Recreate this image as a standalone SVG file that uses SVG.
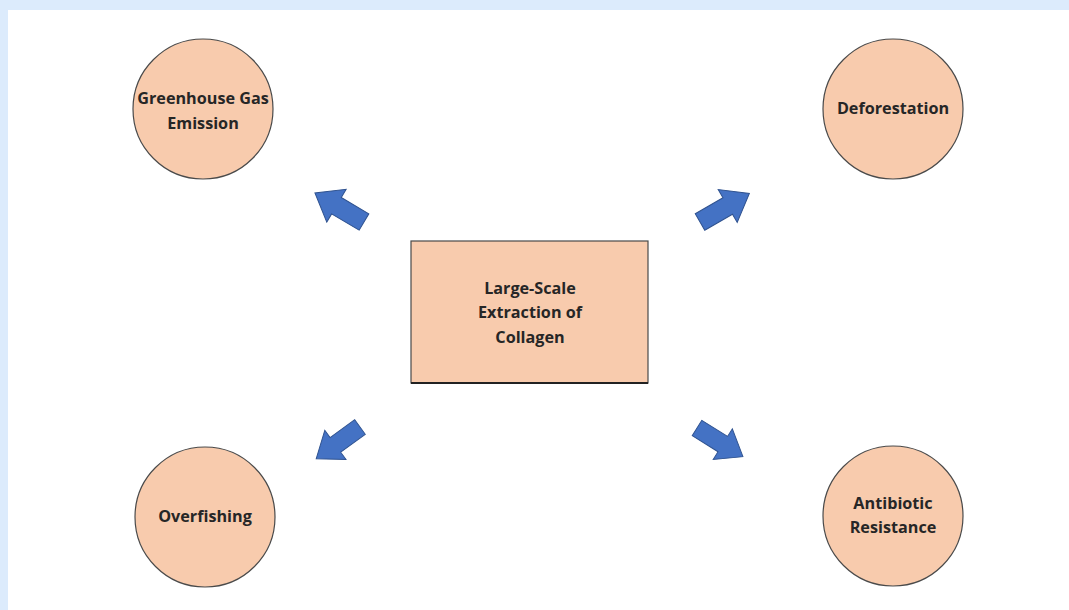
<svg xmlns="http://www.w3.org/2000/svg" width="1069" height="610" viewBox="0 0 1069 610">
<defs>
<style>
.node{fill:#F8CBAD;stroke:#4a4a4a;stroke-width:1.2}
.lbl{font-family:"Open Sans","Liberation Sans",sans-serif;font-weight:bold;font-size:16.2px;fill:#262626;text-anchor:middle}
.arr{fill:#4472C4;stroke:#2F528F;stroke-width:1}
</style>
<path id="arrowShape" d="M0,-9.5 L32,-9.5 L32,-19 L57,0 L32,19 L32,9.5 L0,9.5 Z"/>
</defs>
<rect x="0" y="0" width="1069" height="610" fill="#DCEBFC"/>
<rect x="8" y="10" width="1061" height="600" fill="#FFFFFF"/>
<g id="connectors">
<use href="#arrowShape" class="arr" transform="translate(364,222) rotate(210.6)"/>
<use href="#arrowShape" class="arr" transform="translate(700,222) rotate(-30)"/>
<use href="#arrowShape" class="arr" transform="translate(360,427) rotate(144) scale(0.95)"/>
<use href="#arrowShape" class="arr" transform="translate(697,428) rotate(32) scale(0.95)"/>
</g>
<g id="center">
<rect x="411" y="241" width="237" height="142" class="node" stroke-width="1.5"/>
<line x1="411" y1="383" x2="648" y2="383" stroke="#222" stroke-width="2"/>
<text class="lbl" x="530" y="294">Large-Scale</text>
<text class="lbl" x="530" y="318">Extraction of</text>
<text class="lbl" x="530" y="343">Collagen</text>
</g>
<g id="greenhouse">
<circle cx="203" cy="109" r="70" class="node"/>
<text class="lbl" x="203" y="104">Greenhouse Gas</text>
<text class="lbl" x="203" y="129">Emission</text>
</g>
<g id="deforestation">
<circle cx="893" cy="109" r="70" class="node"/>
<text class="lbl" x="893" y="114">Deforestation</text>
</g>
<g id="overfishing">
<circle cx="205" cy="517" r="70" class="node"/>
<text class="lbl" x="205" y="522">Overfishing</text>
</g>
<g id="antibiotic">
<circle cx="893" cy="516" r="70" class="node"/>
<text class="lbl" x="893" y="509">Antibiotic</text>
<text class="lbl" x="893" y="533">Resistance</text>
</g>
</svg>
